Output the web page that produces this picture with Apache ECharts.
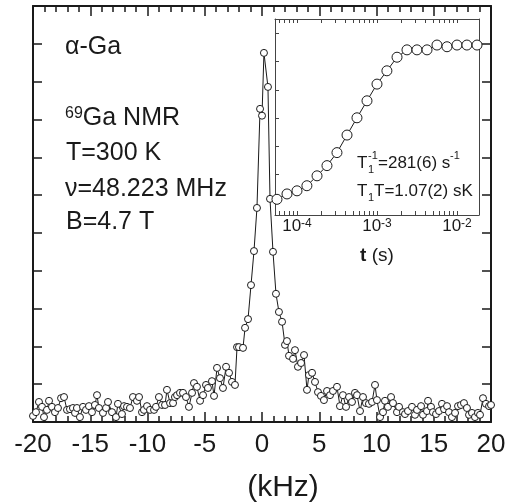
<!DOCTYPE html>
<html>
<head>
<meta charset="utf-8">
<script src="https://cdn.jsdelivr.net/npm/echarts@6/dist/echarts.min.js"></script>
<style>
  html, body { margin: 0; padding: 0; background: #fff; }
  #chart { width: 514px; height: 504px; }
</style>
</head>
<body>
<div id="chart"></div>
<script>
// 69Ga NMR line of alpha-Ga, frequency offset in kHz
const spectrumKHz = [
  -20.0, -19.74, -19.48, -19.21, -19.04, -18.78, -18.6, -18.34, -18.08, -17.82,
  -17.55, -17.29, -17.03, -16.77, -16.51, -16.33, -16.16, -15.9, -15.63, -15.37,
  -15.11, -14.85, -14.59, -14.41, -14.24, -13.89, -13.62, -13.45, -13.1, -12.75,
  -12.58, -12.23, -12.05, -11.79, -11.53, -11.27, -10.92, -10.74, -10.48, -10.31,
  -10.04, -9.78, -9.43, -9.26, -9.0, -8.73, -8.47, -8.3, -8.03, -7.77,
  -7.6, -7.42, -7.16, -6.9, -6.64, -6.38, -6.11, -5.94, -5.68, -5.41,
  -5.15, -4.89, -4.72, -4.37, -4.19, -3.93, -3.67, -3.41, -3.14, -2.88,
  -2.62, -2.36, -2.18, -2.01, -1.66, -1.48, -1.22, -0.96, -0.7, -0.44,
  -0.17, 0.0, 0.17, 0.52, 0.7, 0.96,
  1.22, 1.48, 1.75, 2.01, 2.18, 2.36, 2.71, 2.88, 3.14, 3.41,
  3.67, 3.93, 4.1, 4.37, 4.63, 4.89, 5.15, 5.41, 5.68, 5.94,
  6.2, 6.55, 6.81, 7.07, 7.34, 7.6, 7.86, 8.12, 8.3, 8.56,
  8.82, 9.08, 9.34, 9.61, 9.87, 10.04, 10.31, 10.57, 10.74, 11.0,
  11.27, 11.44, 11.79, 11.97, 12.31, 12.49, 12.75, 13.1, 13.36, 13.54,
  13.89, 14.06, 14.41, 14.5, 14.76, 14.93, 15.2, 15.46, 15.72, 15.9,
  16.16, 16.33, 16.59, 16.86, 17.12, 17.38, 17.64, 17.9, 18.08, 18.34,
  18.6, 18.86, 19.04, 19.3, 19.56, 19.83, 20.0
];
const spectrumAmp = [
  0.16, 0.26, 0.53, 0.40, 0.13, 0.32, 0.56, 0.40, 0.26, 0.37,
  0.63, 0.66, 0.32, 0.34, 0.37, 0.24, 0.37, 0.13, 0.40, 0.32,
  0.42, 0.26, 0.45, 0.71, 0.37, 0.24, 0.37, 0.53, 0.26, 0.13,
  0.48, 0.21, 0.42, 0.40, 0.37, 0.66, 0.56, 0.66, 0.26, 0.32,
  0.42, 0.32, 0.32, 0.40, 0.66, 0.45, 0.45, 0.85, 0.50, 0.50,
  0.66, 0.71, 0.77, 0.77, 0.66, 0.40, 0.77, 1.03, 0.93, 0.56,
  0.71, 0.98, 0.90, 1.08, 0.69, 1.43, 1.16, 0.90, 1.46, 1.30,
  1.06, 0.98, 1.98, 1.98, 1.96, 2.49, 2.72, 3.62, 4.52, 5.66,
  8.28, 8.10, 9.76, 8.86, 5.90, 4.50,
  3.39, 2.91, 2.65, 2.04, 2.14, 1.75, 1.67, 1.90, 1.46, 1.56,
  1.77, 0.85, 1.24, 1.30, 1.06, 0.79, 0.69, 0.58, 0.82, 0.71,
  0.82, 0.93, 0.42, 0.71, 0.40, 0.66, 0.53, 0.77, 0.71, 0.29,
  0.66, 0.50, 0.48, 0.53, 0.98, 0.58, 0.13, 0.26, 0.56, 0.40,
  0.66, 0.50, 0.26, 0.40, 0.26, 0.21, 0.29, 0.40, 0.19, 0.32,
  0.42, 0.19, 0.29, 0.56, 0.40, 0.26, 0.21, 0.29, 0.48, 0.34,
  0.42, 0.26, 0.13, 0.24, 0.42, 0.45, 0.50, 0.37, 0.19, 0.24,
  0.13, 0.24, 0.19, 0.63, 0.48, 0.42, 0.45
];

// inset: magnetization recovery, t in seconds
const recoveryTime = [
  5.62e-5, 7.50e-5, 1.00e-4, 1.33e-4, 1.78e-4, 2.37e-4, 3.16e-4, 4.22e-4, 5.62e-4, 7.50e-4,
  1.00e-3, 1.33e-3, 1.78e-3, 2.37e-3, 3.16e-3, 4.22e-3, 5.62e-3, 7.50e-3, 1.00e-2, 1.33e-2,
  1.78e-2
];
const recoveryAmp = [
  0.13, 0.32, 0.43, 0.61, 0.96, 1.32, 1.78, 2.40, 3.01, 3.61,
  4.20, 4.67, 5.15, 5.41, 5.41, 5.41, 5.58, 5.52, 5.58, 5.58,
  5.58
];

const insetTickValues = [
  6e-5, 7e-5, 8e-5, 9e-5,
  1e-4, 2e-4, 3e-4, 4e-4, 5e-4, 6e-4, 7e-4, 8e-4, 9e-4,
  1e-3, 2e-3, 3e-3, 4e-3, 5e-3, 6e-3, 7e-3, 8e-3, 9e-3,
  1e-2
];
const insetLabelValues = [1e-4, 1e-3, 1e-2];
const insetYTicks = [0, 1, 2, 3, 4, 5, 6];

const ink = '#1a1a1a';
const font = '"Liberation Sans", Arial, sans-serif';

const chart = echarts.init(document.getElementById('chart'), null, { renderer: 'canvas' });

const mainX = (pos, showLabel) => ({
  type: 'value', gridIndex: 0, position: pos,
  min: -20, max: 20, interval: 5,
  axisLine: { show: true, onZero: false, lineStyle: { color: ink, width: 2 } },
  axisTick: { show: true, inside: true, length: 10, lineStyle: { color: ink, width: 1.5 } },
  minorTick: { show: true, splitNumber: 5, length: 6, lineStyle: { color: ink, width: 1.5 } },
  axisLabel: { show: showLabel, fontSize: 26, fontFamily: font, color: ink, margin: 10 },
  splitLine: { show: false }, minorSplitLine: { show: false }
});
const mainY = (pos) => ({
  type: 'value', gridIndex: 0, position: pos,
  min: 0, max: 11, interval: 1,
  axisLine: { show: true, onZero: false, lineStyle: { color: ink, width: 2 } },
  axisTick: { show: true, inside: true, length: 9, lineStyle: { color: ink, width: 1.5 } },
  axisLabel: { show: false },
  splitLine: { show: false }
});
const insetX = (pos, showLabel) => ({
  type: 'log', logBase: 10, gridIndex: 1, position: pos,
  min: 5.31e-5, max: 1.884e-2,
  axisLine: { show: true, onZero: false, lineStyle: { color: '#444', width: 1 } },
  axisTick: { show: true, inside: true, length: 4, customValues: insetTickValues, lineStyle: { color: '#444' } },
  axisLabel: {
    show: showLabel, customValues: insetLabelValues, margin: 3,
    formatter: v => '{b|10}{s|' + Math.round(Math.log10(v)) + '}',
    rich: {
      b: { fontSize: 17, fontFamily: font, color: ink },
      s: { fontSize: 12, fontFamily: font, color: ink, verticalAlign: 'top' }
    }
  },
  splitLine: { show: false }
});
const insetY = (pos, ticks) => ({
  type: 'value', gridIndex: 1, position: pos,
  min: -0.424, max: 6.5,
  axisLine: { show: true, onZero: false, lineStyle: { color: '#444', width: 1 } },
  axisTick: { show: ticks, inside: true, length: 4, customValues: insetYTicks, lineStyle: { color: '#444' } },
  axisLabel: { show: false },
  splitLine: { show: false }
});

const txt = (x, y, text, size, extra) => ({
  type: 'text', x: x, y: y, silent: true,
  style: Object.assign({ text: text, fontSize: size, fontFamily: font, fill: ink, verticalAlign: 'middle' }, extra || {})
});

chart.setOption({
  animation: false,
  backgroundColor: '#fff',
  grid: [
    { left: 33, right: 23, top: 6, bottom: 82 },
    { left: 275, right: 35, top: 19, bottom: 289 }
  ],
  xAxis: [mainX('bottom', true), mainX('top', false), insetX('bottom', true), insetX('top', false)],
  yAxis: [mainY('left'), mainY('right'), insetY('left', true), insetY('right', false)],
  series: [
    {
      type: 'line', xAxisIndex: 0, yAxisIndex: 0,
      data: spectrumKHz.map((f, i) => [f, spectrumAmp[i]]),
      symbol: 'circle', symbolSize: 7, showAllSymbol: true,
      itemStyle: { color: '#fff', borderColor: ink, borderWidth: 1 },
      lineStyle: { color: ink, width: 1 }
    },
    {
      type: 'line', xAxisIndex: 2, yAxisIndex: 2,
      data: recoveryTime.map((t, i) => [t, recoveryAmp[i]]),
      symbol: 'circle', symbolSize: 10, showAllSymbol: true,
      itemStyle: { color: '#fff', borderColor: ink, borderWidth: 1 },
      lineStyle: { color: ink, width: 1 }
    }
  ],
  graphic: [
    txt(65, 47, 'α-Ga', 25),
    txt(65, 118, '{sup|69}{n|Ga NMR}', 25, {
      rich: {
        sup: { fontSize: 16, fontFamily: font, fill: ink, verticalAlign: 'top' },
        n: { fontSize: 25, fontFamily: font, fill: ink }
      }
    }),
    txt(66, 153, 'T=300 K', 25),
    txt(65, 189, 'ν=48.223 MHz', 25),
    txt(66, 222, 'B=4.7 T', 25),
    txt(283, 488, '(kHz)', 30, { align: 'center' }),
    txt(377, 256, '{b|t} (s)', 19, {
      align: 'center',
      rich: { b: { fontSize: 19, fontWeight: 'bold', fontFamily: font, fill: ink } }
    }),
    // inset fit results
    txt(357, 163, 'T', 17),
    txt(368, 156, '-1', 11),
    txt(368, 170, '1', 11),
    txt(378, 163, '=281(6) s', 17),
    txt(450, 156, '-1', 11),
    txt(357, 191, 'T', 17),
    txt(368, 198, '1', 11),
    txt(374, 191, 'T=1.07(2) sK', 17)
  ]
});
</script>
</body>
</html>
